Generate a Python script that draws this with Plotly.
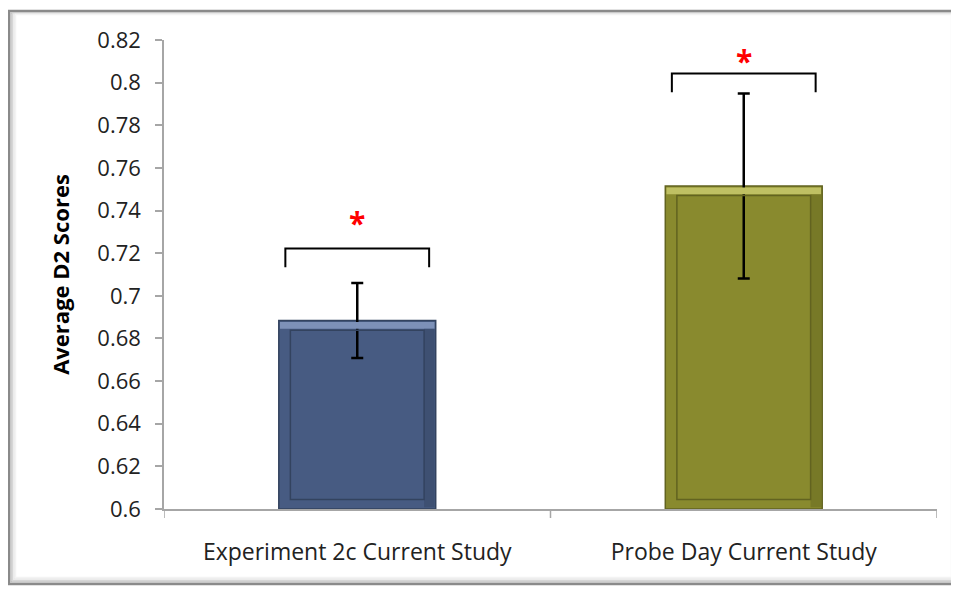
import plotly.graph_objects as go

categories = ["Experiment 2c Current Study", "Probe Day Current Study"]
means = [0.6884, 0.7515]
errors = [0.0176, 0.0434]
bar_colors = ["#475B82", "#898A2E"]
edge_light = ["#7D91B8", "#BFC063"]
edge_dark = ["#33435F", "#626320"]
bracket_levels = [0.7222, 0.8043]
bracket_leg = 0.0088
star_levels = [0.7345, 0.8105]
y_ticks = [0.6, 0.62, 0.64, 0.66, 0.68, 0.7, 0.72, 0.74, 0.76, 0.78, 0.8, 0.82]
y_tick_text = ["0.6", "0.62", "0.64", "0.66", "0.68", "0.7", "0.72", "0.74", "0.76", "0.78", "0.8", "0.82"]

FONT = "Open Sans"
bar_w = 0.406
ymin, ymax = 0.6, 0.82

# figure geometry (page has an 8px body margin)
W, H = 951, 578
ML, MR, MT, MB = 156, 22, 32, 77
PW, PH = W - ML - MR, H - MT - MB

fig = go.Figure()
fig.add_trace(go.Bar(
    x=[0, 1], y=[m - ymin for m in means], base=ymin, width=bar_w,
    marker=dict(color=bar_colors, line=dict(color=edge_dark, width=1.5)),
    error_y=dict(type="data", array=errors, color="black", thickness=2.5, width=6),
    hoverinfo="skip", showlegend=False,
))

shapes = []
for i, m in enumerate(means):
    shapes.append(dict(type="rect", xref="x", yref="y", layer="above",
                       x0=i - bar_w / 2 + 0.003, x1=i + bar_w / 2 - 0.003, y0=m - 0.0038, y1=m - 0.0007,
                       fillcolor=edge_light[i], line=dict(width=0)))
    shapes.append(dict(type="rect", xref="x", yref="y", layer="above",
                       x0=i + bar_w / 2 - 0.03, x1=i + bar_w / 2 - 0.003, y0=ymin + 0.0008, y1=m - 0.0038,
                       fillcolor=edge_dark[i], opacity=0.45, line=dict(width=0)))
    shapes.append(dict(type="rect", xref="x", yref="y", layer="above",
                       x0=i - bar_w / 2 + 0.03, x1=i + bar_w / 2 - 0.03,
                       y0=ymin + 0.0045, y1=m - 0.0045,
                       fillcolor="rgba(0,0,0,0)", line=dict(color=edge_dark[i], width=1.5)))
    b = bracket_levels[i]
    half = 0.372 / 2
    shapes.append(dict(type="path", xref="x", yref="y",
                       path=f"M {i-half},{b-bracket_leg} L {i-half},{b} L {i+half},{b} L {i+half},{b-bracket_leg}",
                       line=dict(color="black", width=2)))

def px_x(p):
    return (p - ML) / PW

def px_y(p):
    return 1 - (p - MT) / PH

# chart frame with soft inner shadow
shapes.append(dict(type="rect", xref="paper", yref="paper", layer="below",
                   x0=px_x(1), x1=px_x(947), y0=px_y(576), y1=px_y(3),
                   line=dict(color="#8A8A8A", width=2.5), fillcolor="white"))
for k, c in enumerate(["#BDBDBD", "#D6D6D6", "#E8E8E8", "#F3F3F3"]):
    shapes.append(dict(type="rect", xref="paper", yref="paper", layer="below",
                       x0=px_x(3 + k * 1.5), x1=px_x(945 - k * 0.5), y0=px_y(574 - k * 1.5), y1=px_y(5 + k * 0.5),
                       line=dict(color=c, width=1.5), fillcolor="rgba(0,0,0,0)"))

annotations = []
for i, s in enumerate(star_levels):
    annotations.append(dict(x=i, y=s, xref="x", yref="y", text="<b>*</b>", showarrow=False,
                            font=dict(color="red", size=30, family=FONT), yanchor="middle"))

fig.update_layout(
    width=W, height=H,
    margin=dict(l=ML, r=MR, t=MT, b=MB),
    paper_bgcolor="white", plot_bgcolor="white",
    shapes=shapes, annotations=annotations,
    xaxis=dict(
        range=[-0.5, 1.5], tickmode="array", tickvals=[0, 1], ticktext=categories,
        showgrid=False, zeroline=False, showline=True, linecolor="#A6A6A6", linewidth=1.5,
        ticks="", ticklabelstandoff=22, tickfont=dict(family=FONT, size=23, color="#222222"),
    ),
    yaxis=dict(
        range=[ymin, ymax], tickmode="array", tickvals=y_ticks, ticktext=y_tick_text,
        showgrid=False, zeroline=False, showline=True, linecolor="#A6A6A6", linewidth=1.5,
        ticks="outside", ticklen=7, tickcolor="#A6A6A6", tickwidth=1.5, ticklabelstandoff=10,
        tickfont=dict(family=FONT, size=22, color="#222222"),
        title=dict(text="<b>Average D2 Scores</b>", font=dict(family=FONT, size=22, color="black"), standoff=22),
    ),
)

for xb in [-0.5, 0.5, 1.5]:
    fig.add_shape(type="line", xref="x", yref="paper", x0=xb, x1=xb, y0=0, y1=-9 / PH,
                  line=dict(color="#A6A6A6", width=1.5))

fig.write_html("out.html")
